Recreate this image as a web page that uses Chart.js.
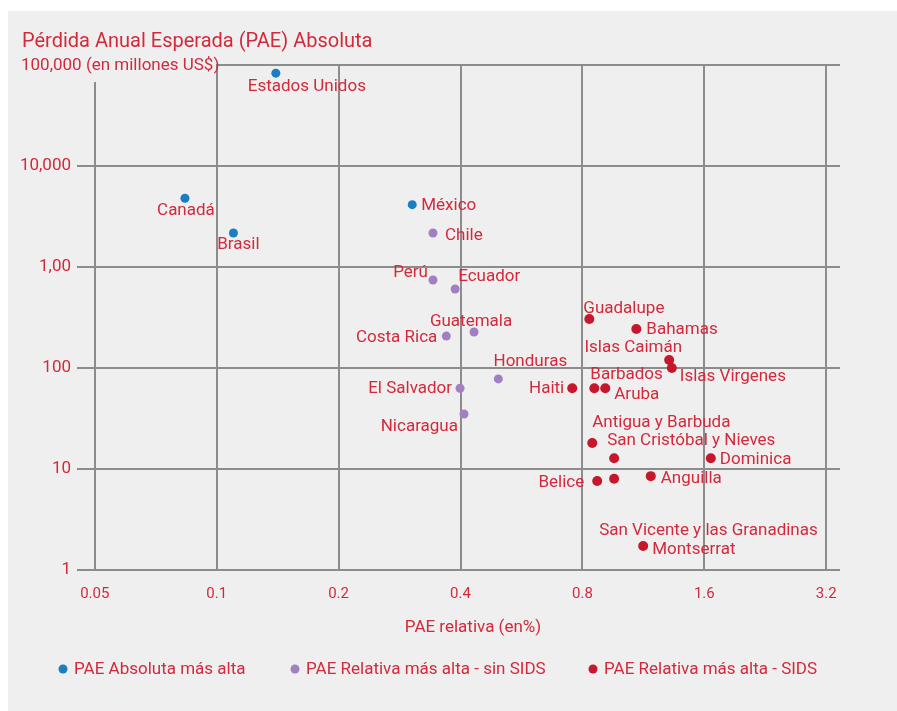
<!DOCTYPE html>
<html>
<head>
<meta charset="utf-8">
<script src="https://cdn.jsdelivr.net/npm/chart.js@4.4.0/dist/chart.umd.min.js"></script>
<style>
  html, body { margin: 0; padding: 0; background: #ffffff; }
  #wrap { position: absolute; left: 0; top: 0; width: 897px; height: 711px; }
</style>
</head>
<body>
<div id="wrap"><canvas id="c" width="897" height="711"></canvas></div>
<script>
// ---------------- DATA ----------------
const chartTitle = "Pérdida Anual Esperada (PAE) Absoluta";
const xAxisTitle = "PAE relativa (en%)";
const seriesNames = ["PAE Absoluta más alta", "PAE Relativa más alta - sin SIDS", "PAE Relativa más alta - SIDS"];

const xTickValues = [0.05, 0.1, 0.2, 0.4, 0.8, 1.6, 3.2];
const xTickLabels = ["0.05", "0.1", "0.2", "0.4", "0.8", "1.6", "3.2"];
const yTickValues = [1, 10, 100, 1000, 10000, 100000];
const yTickLabels = ["1", "10", "100", "1,00", "10,000", "100,000 (en millones US$)"];

const absNames = ["Estados Unidos", "Canadá", "Brasil", "México"];
const absX = [0.140, 0.0835, 0.110, 0.304];
const absY = [83000, 4800, 2170, 4140];

const relNames = ["Chile", "Perú", "Ecuador", "Guatemala", "Costa Rica", "Honduras", "El Salvador", "Nicaragua"];
const relX = [0.342, 0.342, 0.388, 0.432, 0.369, 0.496, 0.399, 0.408];
const relY = [2170, 743, 606, 227, 207, 78, 63, 35];

const sidsNames = ["Guadalupe", "Bahamas", "Islas Caimán", "Islas Virgenes", "Haiti", "Barbados", "Aruba",
  "Antigua y Barbuda", "San Cristóbal y Nieves", "Dominica", "Belice", "San Vicente y las Granadinas", "Anguilla", "Montserrat"];
const sidsX = [0.832, 1.087, 1.31, 1.33, 0.755, 0.856, 0.911, 0.846, 0.958, 1.66, 0.870, 0.958, 1.18, 1.13];
const sidsY = [305, 243, 120, 100, 63, 63, 63, 18.1, 12.8, 12.8, 7.6, 8.0, 8.5, 1.73];

// ---------------- LABEL LAYOUT (offsets from the point, px) ----------------
const labelLayout = {
  "Estados Unidos": [31, 14, "center"], "Canadá": [1, 13, "center"], "Brasil": [5, 12, "center"],
  "México": [9, 1, "left"], "Chile": [12, 3, "left"], "Perú": [-5, -7, "right"], "Ecuador": [3, -12, "left"],
  "Guatemala": [-3, -10, "center"], "Costa Rica": [-9, 2, "right"], "Honduras": [32, -17, "center"],
  "El Salvador": [-8, 0, "right"], "Nicaragua": [-6, 13, "right"], "Guadalupe": [-6, -10, "left"],
  "Bahamas": [10, 1, "left"], "Islas Caimán": [13, -12, "right"], "Islas Virgenes": [8, 9, "left"],
  "Haiti": [-8, 0, "right"], "Barbados": [-4, -14, "left"], "Aruba": [9, 6, "left"],
  "Antigua y Barbuda": [0, -20, "left"], "San Cristóbal y Nieves": [-7, -17, "left"], "Dominica": [9, 2, "left"],
  "Belice": [-13, 2, "right"], "San Vicente y las Granadinas": [-15, 52, "left"], "Anguilla": [10, 3, "left"],
  "Montserrat": [9, 4, "left"]
};

const RED_TEXT = "#d22a3c";
const COLORS = ["#1b7dc2", "#a27fc2", "#c5182d"];
const GRID = "#8c8c8c";
const PANEL = "#efefef";
const FONT = "Roboto, 'Noto Sans', sans-serif";

function pts(xs, ys) { return xs.map((x, i) => ({ x: x, y: ys[i] })); }

const bgPlugin = {
  id: "bg",
  beforeDraw(chart) {
    const ctx = chart.ctx;
    ctx.save();
    ctx.fillStyle = "#ffffff";
    ctx.fillRect(0, 0, chart.width, chart.height);
    ctx.fillStyle = PANEL;
    ctx.fillRect(8, 11, chart.width - 8, chart.height - 11);
    ctx.restore();
  }
};

const labelPlugin = {
  id: "labels",
  afterDatasetsDraw(chart) {
    const ctx = chart.ctx;
    ctx.save();
    ctx.fillStyle = PANEL;
    ctx.fillRect(18, 50, 198, 32);
    ctx.fillStyle = RED_TEXT;
    ctx.textBaseline = "middle";
    ctx.font = "20px " + FONT;
    ctx.textAlign = "left";
    ctx.fillText(chartTitle, 22, 42);
    ctx.font = "17px " + FONT;
    ctx.fillText(yTickLabels[yTickLabels.length - 1], 21, 66);
    ctx.textAlign = "center";
    ctx.fillText(xAxisTitle, 473, 628);
    chart.data.datasets.forEach((ds, di) => {
      const meta = chart.getDatasetMeta(di);
      ds.names.forEach((n, i) => {
        const el = meta.data[i];
        const lay = labelLayout[n] || [8, 0, "left"];
        ctx.textAlign = lay[2];
        ctx.fillText(n, el.x + lay[0], el.y + lay[1]);
      });
    });
    const legX = [63, 295, 593];
    chart.data.datasets.forEach((ds, di) => {
      ctx.fillStyle = ds.backgroundColor;
      ctx.beginPath();
      ctx.arc(legX[di], 669, 4.5, 0, Math.PI * 2);
      ctx.fill();
      ctx.fillStyle = RED_TEXT;
      ctx.textAlign = "left";
      ctx.fillText(ds.label, legX[di] + 11, 670);
    });
    ctx.restore();
  }
};

new Chart(document.getElementById("c"), {
  type: "scatter",
  data: {
    datasets: [
      { label: seriesNames[0], names: absNames, data: pts(absX, absY), backgroundColor: COLORS[0], pointRadius: 4.5, borderWidth: 0 },
      { label: seriesNames[1], names: relNames, data: pts(relX, relY), backgroundColor: COLORS[1], pointRadius: 4.5, borderWidth: 0 },
      { label: seriesNames[2], names: sidsNames, data: pts(sidsX, sidsY), backgroundColor: COLORS[2], pointRadius: 5, borderWidth: 0 }
    ]
  },
  options: {
    responsive: false,
    animation: false,
    layout: { padding: { left: 0, right: 57, top: 65, bottom: 0 } },
    plugins: { legend: { display: false }, tooltip: { enabled: false } },
    scales: {
      x: {
        type: "logarithmic",
        min: 0.0452, max: 3.46,
        afterBuildTicks(s) { s.ticks = xTickValues.map(v => ({ value: v })); },
        afterFit(s) { s.height = 141; },
        ticks: {
          padding: 15, color: RED_TEXT, font: { family: FONT, size: 15 },
          autoSkip: false, maxRotation: 0,
          callback(v) { const i = xTickValues.indexOf(v); return i >= 0 ? xTickLabels[i] : ""; }
        },
        grid: { color: GRID, lineWidth: 2, drawTicks: false },
        border: { display: false }
      },
      y: {
        type: "logarithmic",
        min: 1, max: 100000,
        afterBuildTicks(s) { s.ticks = yTickValues.map(v => ({ value: v })); },
        afterFit(s) { s.width = 77; },
        ticks: {
          padding: 6, color: RED_TEXT, font: { family: FONT, size: 17 },
          autoSkip: false,
          callback(v) { const i = yTickValues.indexOf(v); return (i >= 0 && i < yTickValues.length - 1) ? yTickLabels[i] : ""; }
        },
        grid: { color: GRID, lineWidth: 2, drawTicks: false },
        border: { display: false }
      }
    }
  },
  plugins: [bgPlugin, labelPlugin]
});
</script>
</body>
</html>
